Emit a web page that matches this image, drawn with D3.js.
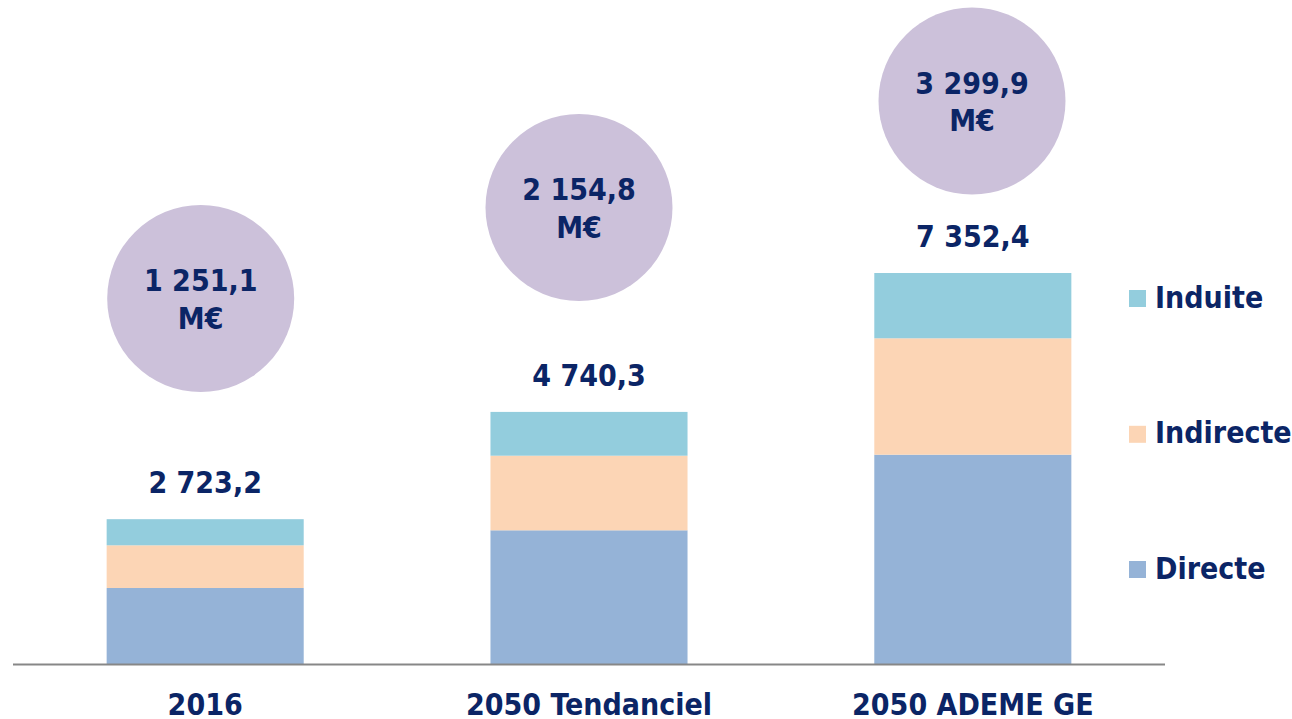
<!DOCTYPE html>
<html><head><meta charset="utf-8">
<script src="https://cdn.jsdelivr.net/npm/d3@7"></script>
<style>
html,body{margin:0;padding:0;background:#fff;}
svg{display:block;}
text{font-family:"DejaVu Sans Condensed","DejaVu Sans",sans-serif;font-weight:bold;fill:#0b2566;}
</style></head>
<body><svg id="chart" width="1292" height="719"></svg>
<script>
const categories = ["2016", "2050 Tendanciel", "2050 ADEME GE"];
const series = ["Directe", "Indirecte", "Induite"];
const directe = [1429, 2514, 3936];
const indirecte = [803, 1403, 2189];
const induite = [491.2, 823.3, 1227.4];
const totalLabels = ["2 723,2", "4 740,3", "7 352,4"];
const totals = [2723.2, 4740.3, 7352.4];
const circleLabels = ["1 251,1", "2 154,8", "3 299,9"];
const circleUnit = "M€";
const colors = {Directe:"#95B3D7", Indirecte:"#FCD5B5", Induite:"#93CDDD"};

// layout (not data)
const circleCenters = [[200.7, 298.5], [579, 207.5], [972, 101]];
const circleR = 93.5;

const svg = d3.select("#chart");
const x = d3.scaleBand().domain(categories).range([13, 1165]).paddingInner(0.4866).paddingOuter(0.244);
const y = d3.scaleLinear().domain([0, d3.max(totals)]).range([664, 273]);

const rows = categories.map((c, i) => ({cat: c, Directe: directe[i], Indirecte: indirecte[i], Induite: induite[i]}));
const stack = d3.stack().keys(series)(rows);

svg.append("g").selectAll("g").data(stack).join("g")
  .attr("fill", d => colors[d.key])
  .selectAll("rect").data(d => d).join("rect")
  .attr("x", d => x(d.data.cat))
  .attr("width", x.bandwidth())
  .attr("y", d => y(d[1]))
  .attr("height", d => y(d[0]) - y(d[1]));

// axis
const axis = svg.append("g").attr("transform", "translate(0,664.5)")
  .call(d3.axisBottom(x).tickSize(0).tickPadding(0).tickSizeOuter(0));
axis.select(".domain").attr("stroke", "#878787").attr("stroke-width", 2).attr("d", "M13,0H1165");
axis.selectAll(".tick text").attr("y", 50.5).attr("dy", null)
  .style("font-size", "30px").style("font-family", '"DejaVu Sans Condensed","DejaVu Sans",sans-serif')
  .style("font-weight", "bold").attr("fill", "#0b2566");

// total labels
svg.append("g").selectAll("text").data(categories).join("text")
  .attr("x", d => x(d) + x.bandwidth() / 2)
  .attr("y", (d, i) => y(totals[i]) - 26)
  .attr("text-anchor", "middle").style("font-size", "30px")
  .text((d, i) => totalLabels[i]);

// circles
const cg = svg.append("g").selectAll("g").data(circleLabels).join("g")
  .attr("transform", (d, i) => `translate(${circleCenters[i][0]},${circleCenters[i][1]})`);
cg.append("circle").attr("r", circleR).attr("fill", "#CCC1DA");
cg.append("text").attr("text-anchor", "middle").attr("y", -7.5).style("font-size", "30px").text(d => d);
cg.append("text").attr("text-anchor", "middle").attr("y", 30.2).style("font-size", "30px").text(circleUnit);

// legend
const legendY = {Induite: 307.5, Indirecte: 443.3, Directe: 578.5};
const lg = svg.append("g").selectAll("g").data(series).join("g");
lg.append("rect").attr("x", 1129).attr("y", d => legendY[d] - 17.5).attr("width", 17).attr("height", 17)
  .attr("fill", d => colors[d]);
lg.append("text").attr("x", 1155).attr("y", d => legendY[d]).style("font-size", "30px").text(d => d);
</script></body></html>
